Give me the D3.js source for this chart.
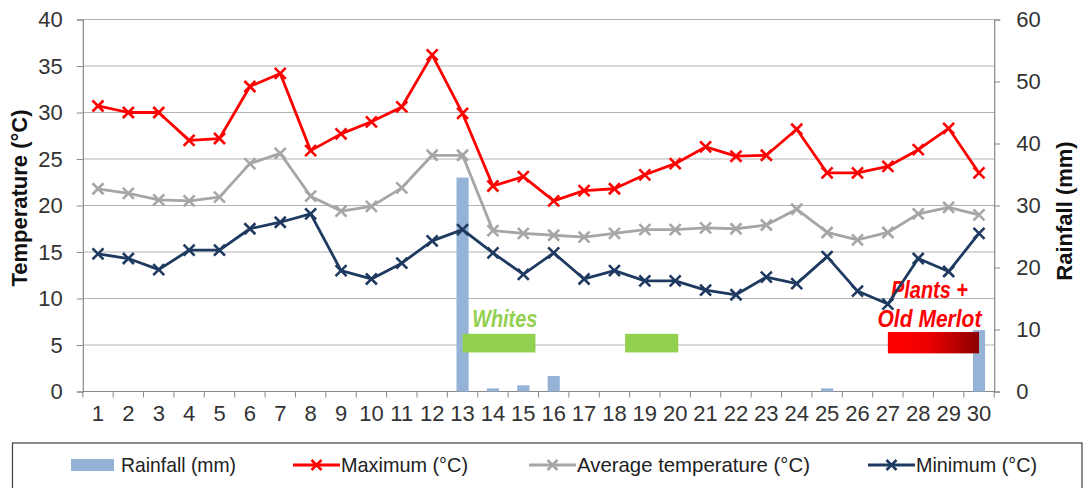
<!DOCTYPE html>
<html><head><meta charset="utf-8">
<script src="https://cdn.jsdelivr.net/npm/d3@7/dist/d3.min.js"></script>
<style>
html,body{margin:0;padding:0;background:#fff;}
svg{display:block;}
text{font-family:"Liberation Sans",Arial,sans-serif;}
</style></head>
<body>
<svg id="chart" width="1090" height="488"></svg>
<script>
const days = d3.range(1, 31).map(String);
const maxTemp = [30.7,30.0,30.0,27.0,27.2,32.8,34.2,25.9,27.7,29.0,30.6,36.2,29.9,22.1,23.1,20.5,21.6,21.8,23.3,24.5,26.3,25.3,25.4,28.2,23.5,23.5,24.2,26.0,28.3,23.5];
const avgTemp = [21.8,21.3,20.6,20.5,20.9,24.5,25.6,21.0,19.4,19.9,21.9,25.4,25.4,17.3,17.0,16.8,16.6,17.0,17.4,17.4,17.6,17.5,17.9,19.6,17.1,16.3,17.1,19.1,19.8,19.0];
const minTemp = [14.8,14.3,13.1,15.2,15.2,17.5,18.2,19.1,13.0,12.1,13.8,16.2,17.4,14.9,12.6,14.9,12.1,13.0,11.9,11.9,10.9,10.4,12.3,11.6,14.5,10.8,9.4,14.3,12.9,17.0];
const rainfall = [0,0,0,0,0,0,0,0,0,0,0,0,34.5,0.5,1.0,2.5,0,0,0,0,0,0,0,0,0.5,0,0,0,0,9.9];
const tempTicks = [0,5,10,15,20,25,30,35,40];
const rainTicks = [0,10,20,30,40,50,60];
// annotation periods [startDay, endDay] in day units
const whitesPeriods = [[13.0, 15.4], [18.35, 20.1]];
const merlotPeriod = [27.0, 30.0];

const svg = d3.select("#chart");
const L = 82.8, R = 994.2, T = 19.5, B = 391.5;

const x = d3.scaleBand().domain(days).range([L, R]).padding(0);
const xc = d => x(d) + x.bandwidth() / 2;
const xd = v => L + (v - 0.5) * x.bandwidth();
const yT = d3.scaleLinear().domain([0, 40]).range([B, T]);
const yR = d3.scaleLinear().domain([0, 60]).range([B, T]);

// gridlines
svg.append("g").selectAll("line").data(tempTicks.filter(t => t > 0)).join("line")
  .attr("x1", L).attr("x2", R).attr("y1", d => yT(d)).attr("y2", d => yT(d))
  .attr("stroke", "#b3b3b3").attr("stroke-width", 1.2);

const gL = svg.append("g").attr("transform", `translate(${L},0)`)
  .call(d3.axisLeft(yT).tickValues(tempTicks).tickSize(6).tickPadding(14));
gL.selectAll("text").attr("font-size", 22).attr("fill", "#333");
const gR = svg.append("g").attr("transform", `translate(${R},0)`)
  .call(d3.axisRight(yR).tickValues(rainTicks).tickSize(6).tickPadding(16));
gR.selectAll("text").attr("font-size", 22).attr("fill", "#333");
const gB = svg.append("g").attr("transform", `translate(0,${B})`)
  .call(d3.axisBottom(x).tickSize(0).tickPadding(14));
gB.selectAll("text").attr("font-size", 22).attr("fill", "#333");
gB.append("g").selectAll("line").data(d3.range(0, 31)).join("line")
  .attr("x1", i => L + i * x.bandwidth()).attr("x2", i => L + i * x.bandwidth())
  .attr("y1", 0).attr("y2", 6).attr("stroke", "#888");
[gL, gR, gB].forEach(g => {
  g.selectAll(".domain").attr("stroke", "#888").attr("stroke-width", 1.2);
  g.selectAll(".tick line").attr("stroke", "#888");
});
gB.select(".domain").attr("d", `M${L},0H${R}`);

// axis titles
svg.append("text").attr("transform", `translate(27,198) rotate(-90)`)
  .attr("text-anchor", "middle").attr("font-size", 22).attr("font-weight", "bold")
  .attr("fill", "#111").text("Temperature (°C)");
svg.append("text").attr("transform", `translate(1072,211) rotate(-90)`)
  .attr("text-anchor", "middle").attr("font-size", 22).attr("font-weight", "bold")
  .attr("fill", "#111").text("Rainfall (mm)");

// rainfall bars
const bw = x.bandwidth() * 0.4;
svg.append("g").selectAll("rect").data(rainfall).join("rect")
  .attr("x", (d, i) => xc(days[i]) - bw / 2).attr("width", bw)
  .attr("y", d => yR(d)).attr("height", d => yR(0) - yR(d))
  .attr("fill", "#95b3d7");

// annotations
const defs = svg.append("defs");
const grad = defs.append("linearGradient").attr("id", "redgrad");
grad.append("stop").attr("offset", "0%").attr("stop-color", "#ff0000");
grad.append("stop").attr("offset", "45%").attr("stop-color", "#ee0000");
grad.append("stop").attr("offset", "100%").attr("stop-color", "#8b0000");
svg.append("g").selectAll("rect").data(whitesPeriods).join("rect")
  .attr("x", d => xd(d[0])).attr("width", d => xd(d[1]) - xd(d[0]))
  .attr("y", yT(6.2)).attr("height", yT(4.2) - yT(6.2)).attr("fill", "#92d050");
svg.append("rect").attr("x", xd(merlotPeriod[0])).attr("width", xd(merlotPeriod[1]) - xd(merlotPeriod[0]))
  .attr("y", yT(6.4)).attr("height", yT(4.1) - yT(6.4)).attr("fill", "url(#redgrad)");
const annot = (tx, ty, txt, color, len, anchor) => svg.append("text")
  .attr("x", tx).attr("y", ty).attr("text-anchor", anchor)
  .attr("font-size", 23).attr("font-weight", "bold").attr("font-style", "italic")
  .attr("textLength", len).attr("lengthAdjust", "spacingAndGlyphs")
  .attr("fill", color).text(txt);
annot(xd(13.32), yT(6.95), "Whites", "#92d050", 65, "start");
annot(xd(28.37), yT(10.1), "Plants +", "#ff0000", 77, "middle");
annot(xd(28.37), yT(6.95), "Old Merlot", "#ff0000", 104, "middle");

// lines
const series = [
  {vals: avgTemp, color: "#a6a6a6"},
  {vals: minTemp, color: "#1f3a60"},
  {vals: maxTemp, color: "#ff0000"}
];
const line = d3.line().x((d, i) => xc(days[i])).y(d => yT(d));
const cross = (g, cx, cy, s, color) => {
  g.append("path").attr("d", `M${cx - s},${cy - s}L${cx + s},${cy + s}M${cx - s},${cy + s}L${cx + s},${cy - s}`)
    .attr("stroke", color).attr("stroke-width", 2.6).attr("fill", "none");
};
series.forEach(s => {
  const g = svg.append("g");
  g.append("path").datum(s.vals).attr("d", line).attr("fill", "none")
    .attr("stroke", s.color).attr("stroke-width", 2.8).attr("stroke-linejoin", "round");
  s.vals.forEach((v, i) => cross(g, xc(days[i]), yT(v), 5.5, s.color));
});

// legend
svg.append("rect").attr("x", 12.5).attr("y", 443).attr("width", 1069.5).attr("height", 60)
  .attr("fill", "#fff").attr("stroke", "#404040").attr("stroke-width", 1.2);
const ly = 465;
const lg = svg.append("g");
lg.append("rect").attr("x", 71).attr("y", ly - 6).attr("width", 43).attr("height", 12).attr("fill", "#95b3d7");
const legText = (tx, txt, len) => lg.append("text").attr("x", tx).attr("y", ly).attr("dy", "0.35em")
  .attr("font-size", 21).attr("fill", "#222")
  .attr("textLength", len).attr("lengthAdjust", "spacingAndGlyphs").text(txt);
legText(121, "Rainfall (mm)", 115);
const legItems = [
  {name: "Maximum (°C)", color: "#ff0000", x0: 293, len: 127},
  {name: "Average temperature (°C)", color: "#a6a6a6", x0: 529, len: 233},
  {name: "Minimum (°C)", color: "#1f3a60", x0: 868, len: 121}
];
legItems.forEach(it => {
  lg.append("line").attr("x1", it.x0).attr("x2", it.x0 + 47).attr("y1", ly).attr("y2", ly)
    .attr("stroke", it.color).attr("stroke-width", 2.8);
  cross(lg, it.x0 + 23.5, ly, 5, it.color);
  legText(it.x0 + 48, it.name, it.len);
});
</script>
</body></html>
